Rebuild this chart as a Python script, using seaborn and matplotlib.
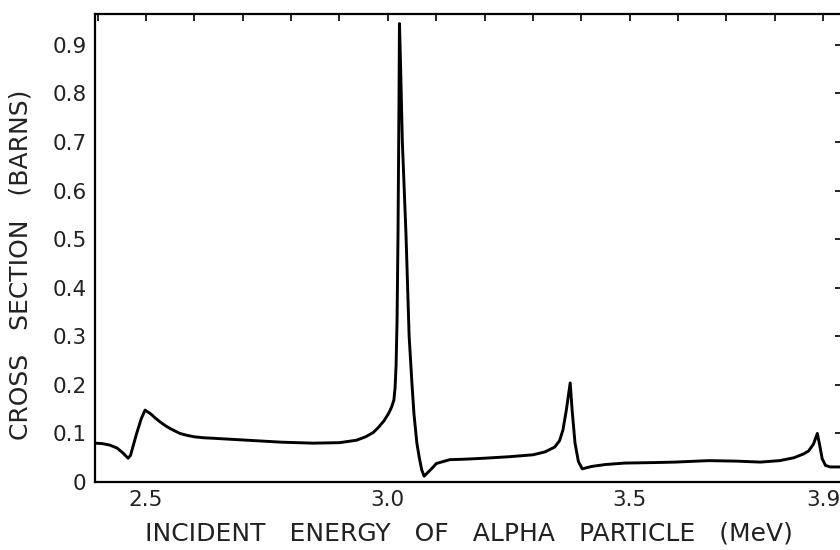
import numpy as np
import pandas as pd
import matplotlib
matplotlib.use("Agg")
import matplotlib.pyplot as plt
import seaborn as sns

# excitation curve
energy = [2.395, 2.41, 2.425, 2.44, 2.452, 2.463, 2.468, 2.48, 2.49, 2.498,
          2.51, 2.52, 2.53, 2.54, 2.55, 2.57, 2.585, 2.60, 2.62, 2.64,
          2.71, 2.78, 2.845, 2.90, 2.935, 2.954, 2.97, 2.981, 2.992, 3.002,
          3.008, 3.0125, 3.015, 3.017, 3.019, 3.021, 3.023, 3.024, 3.026, 3.030,
          3.0375, 3.044, 3.050, 3.054, 3.060, 3.065, 3.070, 3.075, 3.085, 3.094,
          3.10, 3.128, 3.16, 3.20, 3.25, 3.30, 3.325, 3.345, 3.355, 3.362,
          3.369, 3.377, 3.381, 3.387, 3.394, 3.402, 3.421, 3.45, 3.49, 3.55,
          3.594, 3.663, 3.72, 3.77, 3.81, 3.84, 3.86, 3.87, 3.88, 3.888,
          3.893, 3.898, 3.905, 3.915, 3.939]
sigma = [0.080, 0.079, 0.076, 0.070, 0.060, 0.049, 0.055, 0.098, 0.130, 0.148,
         0.140, 0.131, 0.123, 0.116, 0.110, 0.100, 0.096, 0.093, 0.091, 0.090,
         0.086, 0.082, 0.080, 0.081, 0.086, 0.093, 0.102, 0.113, 0.126, 0.142,
         0.155, 0.169, 0.195, 0.240, 0.330, 0.510, 0.780, 0.944, 0.870, 0.700,
         0.510, 0.300, 0.200, 0.140, 0.080, 0.050, 0.025, 0.012, 0.022, 0.031,
         0.038, 0.046, 0.047, 0.049, 0.052, 0.056, 0.062, 0.072, 0.085, 0.107,
         0.148, 0.204, 0.148, 0.080, 0.042, 0.027, 0.032, 0.036, 0.039, 0.040,
         0.041, 0.044, 0.043, 0.041, 0.044, 0.050, 0.058, 0.064, 0.078, 0.100,
         0.075, 0.048, 0.034, 0.031, 0.031]

x_ticks = [2.4, 2.5, 2.6, 2.7, 2.8, 2.9, 3.0, 3.1, 3.2, 3.3, 3.4, 3.5, 3.6, 3.7, 3.8, 3.9]
x_labels = {2.5: "2.5", 3.0: "3.0", 3.5: "3.5", 3.9: "3.9"}
y_ticks = [0, 0.1, 0.2, 0.3, 0.4, 0.5, 0.6, 0.7, 0.8, 0.9]
y_labels = ["0", "0.1", "0.2", "0.3", "0.4", "0.5", "0.6", "0.7", "0.8", "0.9"]

df = pd.DataFrame({"energy": energy, "sigma": sigma})

sns.set_theme(style="white")
plt.rcParams["font.family"] = ["DejaVu Sans"]

fig = plt.figure(figsize=(8.4, 5.5), dpi=100)
ax = fig.add_axes([95 / 840, 1 - 482 / 550, (842 - 95) / 840, 468 / 550])

sns.lineplot(data=df, x="energy", y="sigma", ax=ax, color="black",
             linewidth=2.1, estimator=None, sort=False)

ax.set_xlim(2.3945, 3.939)
ax.set_ylim(0, 0.9637)

ax.set_xticks(x_ticks)
ax.set_xticklabels([x_labels.get(round(t, 1), "") for t in x_ticks])
ax.set_yticks(y_ticks)
ax.set_yticklabels(y_labels)

ax.tick_params(direction="in", length=5, width=1.2, color="black",
               labelsize=15.5, top=True, right=True, pad=6, labelcolor="#222222")
for s in ax.spines.values():
    s.set_linewidth(1.6)
    s.set_color("black")

ax.set_xlabel("INCIDENT   ENERGY   OF   ALPHA   PARTICLE   (MeV)", fontsize=18,
              labelpad=8, color="#222222")
ax.set_ylabel("CROSS   SECTION   (BARNS)", fontsize=18, labelpad=12,
              color="#222222")
ax.yaxis.set_label_coords(-0.083, 0.465)

fig.savefig("out.png", dpi=100)
